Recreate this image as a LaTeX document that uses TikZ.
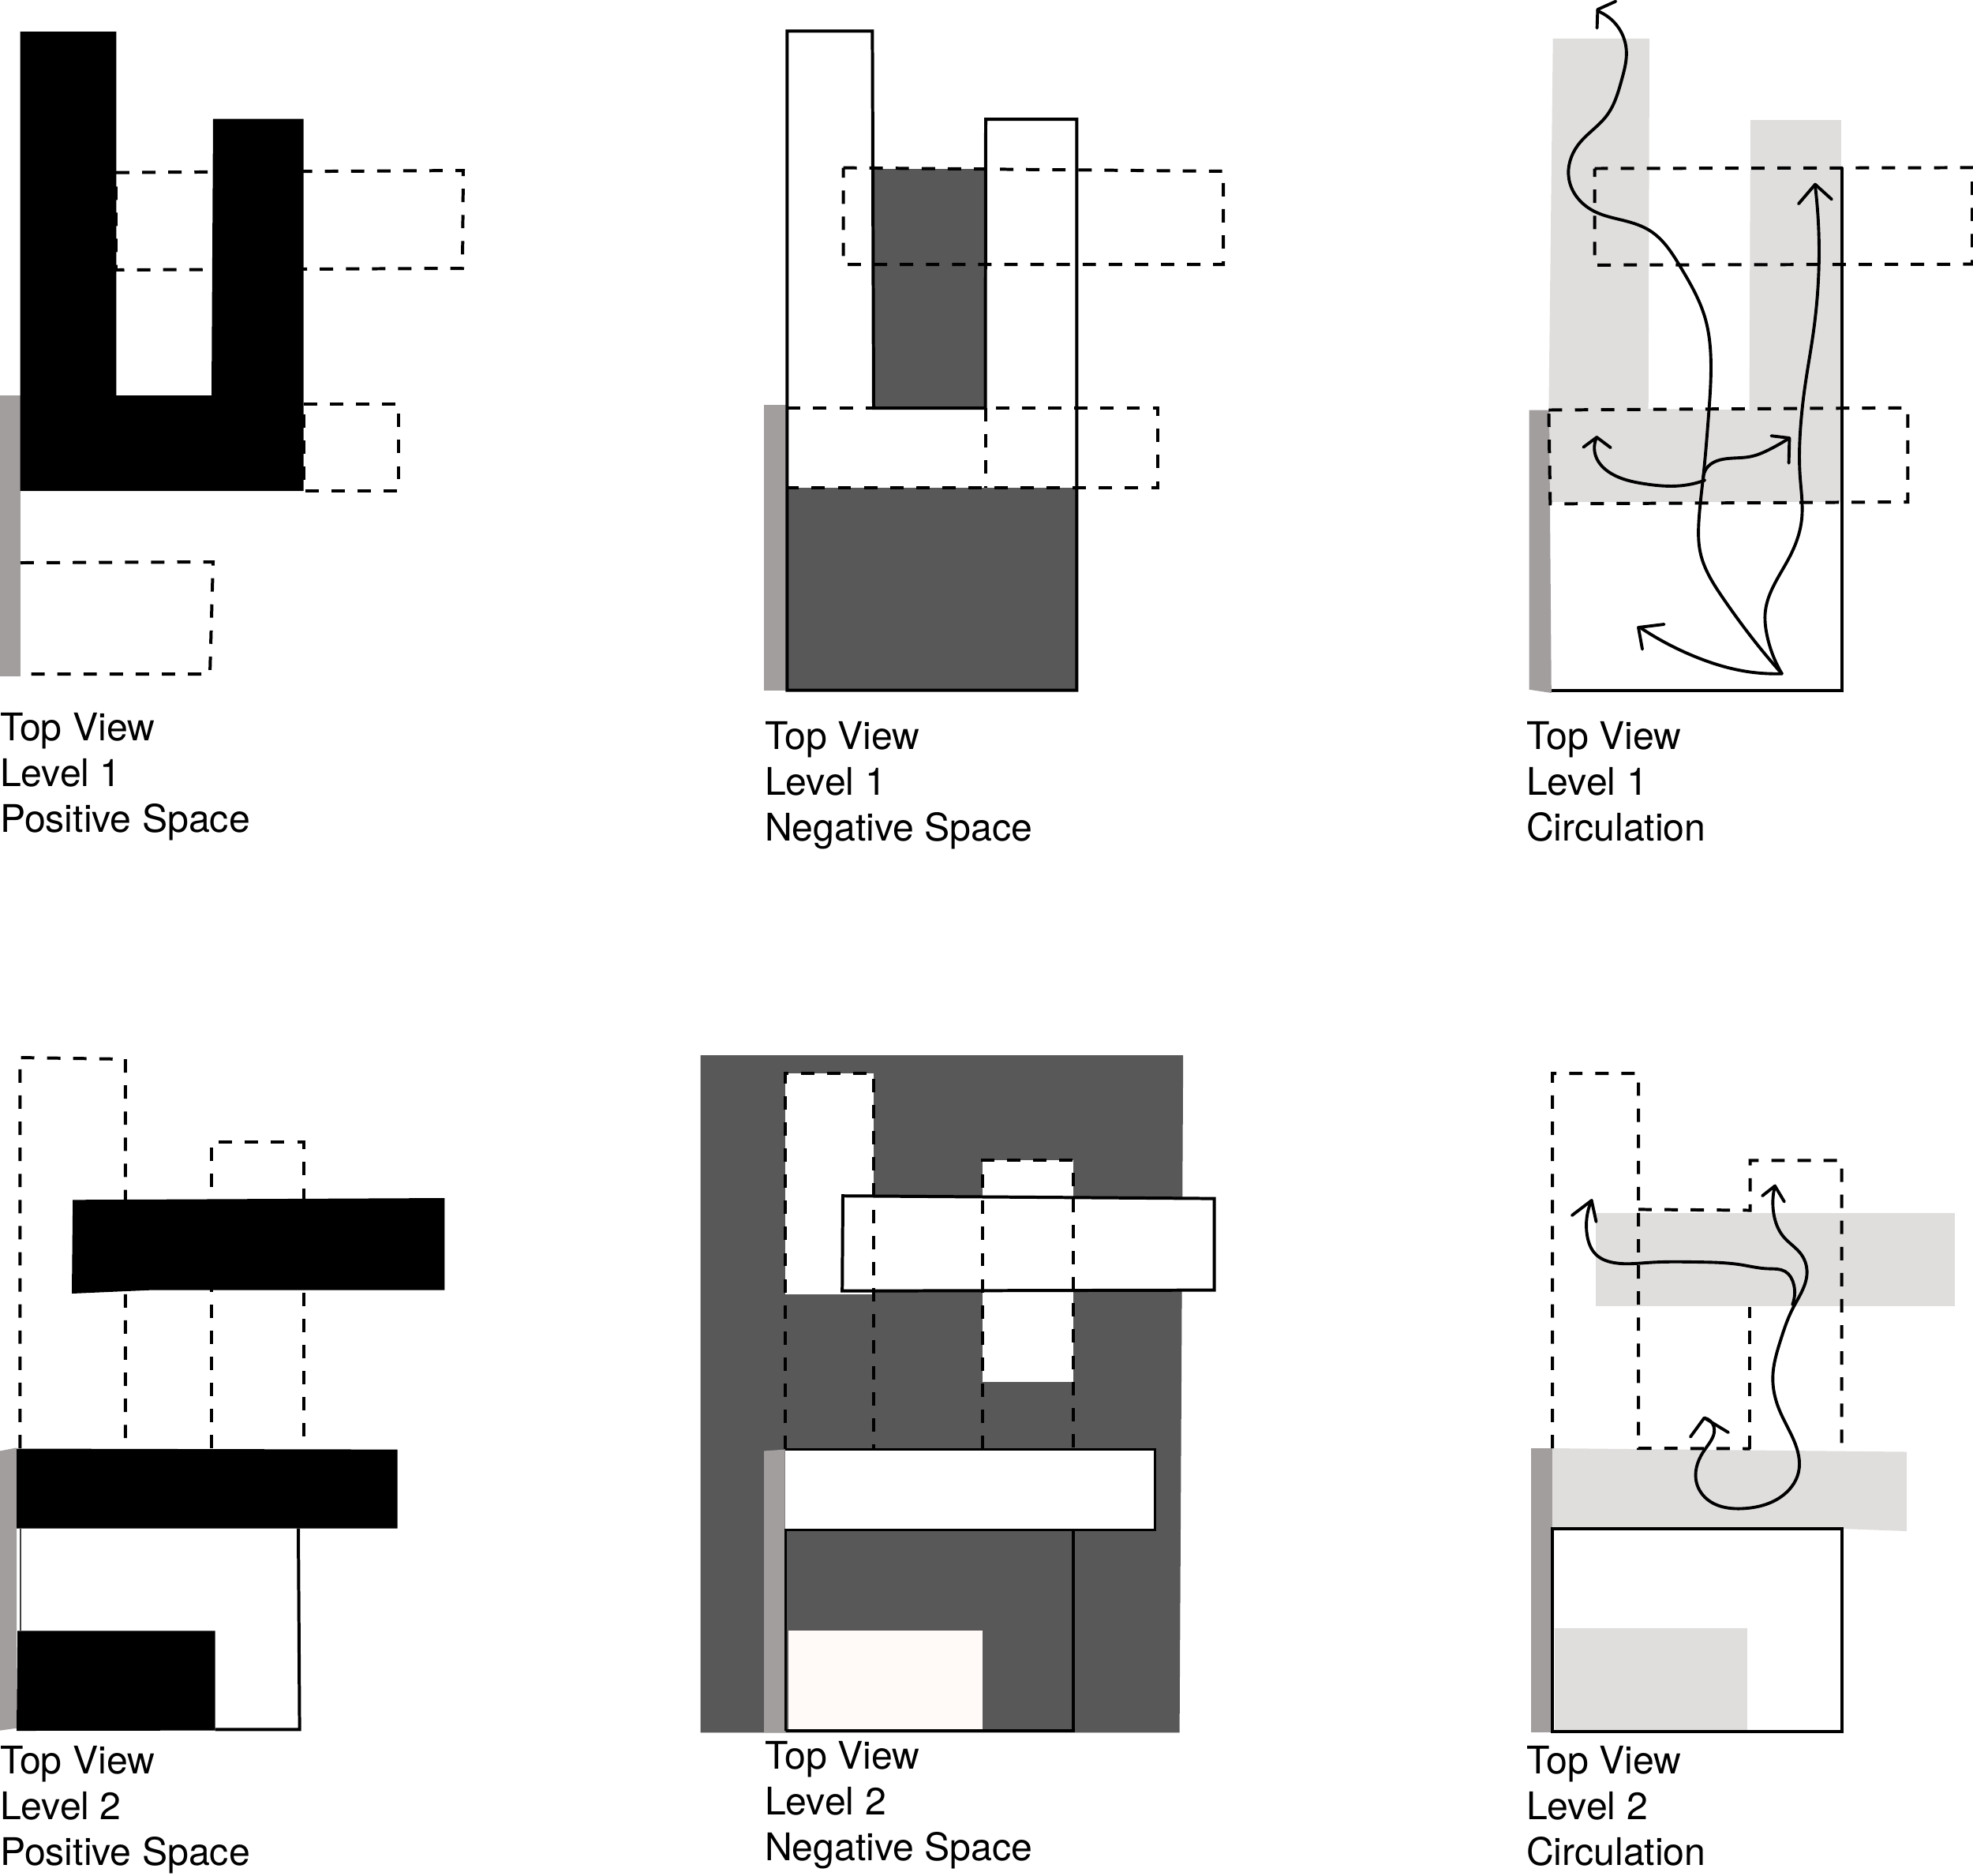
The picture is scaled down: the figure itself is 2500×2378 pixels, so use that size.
\documentclass[tikz,border=0pt]{standalone}
\usepackage{fontspec}
\usetikzlibrary{hobby}
\setmainfont{TeX Gyre Heros}
\definecolor{wallc}{HTML}{A39E9E}
\definecolor{darkc}{HTML}{585858}
\definecolor{palec}{HTML}{E0DEDD}
\definecolor{offw}{HTML}{FFFAF8}
\tikzset{
  dashln/.style={draw=black,line width=2pt,dash pattern=on 8.5pt off 8.1pt},
  solidln/.style={draw=black,line width=2pt,line join=miter},
  thinln/.style={draw=wallc!40!black,line width=0.9pt},
  wallfill/.style={fill=wallc},
  darkfill/.style={fill=darkc},
  palefill/.style={fill=palec},
  blackfill/.style={fill=black},
  route/.style={draw=black,line width=1.95pt,line cap=round,line join=round},
  curveln/.style={route,use Hobby shortcut},
  caption/.style={anchor=base west,inner sep=0pt,outer sep=0pt,font=\fontsize{24.2}{28}\selectfont,text=black}
}
\newcommand{\lbl}[5]{%
  \node[caption] (#1a) at (#2,#3) {Top View};
  \node[caption] (#1b) at (#2,#3+58) {#4};
  \node[caption] (#1c) at (#2,#3+116) {#5};
}
\begin{document}
\begin{tikzpicture}[x=0.4999bp,y=-0.4999bp]
\useasboundingbox (0,0) rectangle (2500,2376);
\clip (0,0) rectangle (2500,2376);

% ---------- Panel 1: level 1 positive
\fill[wallfill] (0,501) rectangle (26,856.5);
\draw[dashln] (147,218.6) -- (587,216) -- (586,340) -- (147,342) -- cycle;
\draw[dashln] (385,512) -- (505,512) -- (505,622) -- (385,622) -- cycle;
\draw[dashln] (26,713) -- (270,712) -- (266,854) -- (26,854);
\fill[blackfill] (25.6,40) -- (147.3,40) -- (147.3,501) -- (268,501) -- (270,150.5) -- (384.6,150.5) -- (384.6,622) -- (25.6,622) -- cycle;

% ---------- Panel 2: level 1 negative
\fill[wallfill] (967.8,513) rectangle (997.4,874.6);
\fill[darkfill] (1107,214) rectangle (1248.5,517);
\fill[darkfill] (997.4,618) rectangle (1364.4,874.6);
\draw[dashln] (1068.6,212.6) -- (1550,217) -- (1550,335.2) -- (1068.6,335.2) -- cycle;
\draw[dashln] (997.4,516.7) -- (1467,516.7) -- (1467,618) -- (997.4,618);
\draw[dashln] (1248.5,517) -- (1248.5,618);
\draw[solidln] (997.4,39.4) -- (1105.4,39.4) -- (1107,517) -- (1248.5,517) -- (1249,151) -- (1364.4,151) -- (1364.4,874.6) -- (997.4,874.6) -- cycle;

% ---------- Panel 3: level 1 circulation
\fill[palefill] (1967.7,48.8) -- (2090,48.8) -- (2088.7,518) -- (2216.5,519.5) -- (2218,152) -- (2332.8,152) -- (2332.8,636) -- (1963,636) -- (1962.4,518) -- cycle;
\fill[wallfill] (1937.5,519.5) -- (1963,519.5) -- (1965.8,878) -- (1937.5,873.7) -- cycle;
\draw[solidln] (2333.6,212) -- (2333.6,875.4) -- (1965.8,875.4);
\draw[dashln] (2020.5,213.5) -- (2499,212.4) -- (2499,334.7) -- (2020.5,335.8) -- cycle;
\draw[dashln] (1962.4,519.5) -- (2417.4,516.7) -- (2417.4,636) -- (1964.3,638.4) -- cycle;

\draw[curveln] (2257.8,853.6) .. (2225.3,815) .. (2183.2,757.8) .. (2154.5,700.3) .. (2152.6,660) .. (2158.3,602.8) .. (2164.8,528) .. (2167.9,459) .. (2160.2,401.8) .. (2129.6,338.7) .. (2091.4,292.8) .. (2064.6,281.3) .. (2018.6,267) .. (1988,226.8) .. (1999.5,183.7) .. (2035.9,146.4) .. (2055,100.5) .. (2060.7,63) .. (2024.4,14);
\draw[route] (2047.3,1.7) -- (2024.4,12) -- (2023.6,35.6);
\draw[curveln] (2257.8,853.6) .. (2238.7,803.7) .. (2236.8,775) .. (2267.4,706) .. (2282.7,660) .. (2280.8,602.8) .. (2281.6,539.6) .. (2286.5,493.7) .. (2298,419) .. (2304.9,310) .. (2300,235.4);
\draw[route] (2278.9,258.3) -- (2300,233.6) -- (2321,252.6);
\draw[curveln] (2257.8,853.6) .. (2206,849.6) .. (2148.8,832.4) .. (2078,795);
\draw[route] (2108.6,791) -- (2076,795) -- (2081,822.6);
\draw[curveln] (2160.2,608.5) .. (2129.6,615.4) .. (2083.7,613) .. (2041.6,600) .. (2022,578) .. (2023.2,554);
\draw[route] (2006.4,566.6) -- (2023.2,554) -- (2040.8,567.2);
\draw[curveln] (2158.3,608) .. (2164,591.3) .. (2179.4,582.7) .. (2217.6,578.6) .. (2244.4,568.3) .. (2267.4,555);
\draw[route] (2244.4,552.2) -- (2267.4,555) -- (2266.6,586.7);

% ---------- Panel 4: level 2 positive
\fill[wallfill] (0,1838.4) -- (21,1834.4) -- (21,2189.7) -- (0,2192.6) -- cycle;
\draw[dashln] (25.3,1835) -- (25.3,1340) -- (158.8,1342) -- (158.8,1835);
\draw[dashln] (267.9,1835) -- (267.9,1447.4) -- (384.6,1447.4) -- (384.6,1835);
\draw[thinln] (26,1936.5) -- (26,2066);
\draw[solidln] (378,1936.5) -- (379.6,2191.4) -- (272.5,2191.4);
\fill[blackfill] (92.2,1520.3) -- (563.3,1518) -- (563.3,1634.6) -- (191.4,1634.6) -- (91,1639) -- cycle;
\fill[blackfill] (21,1835.5) -- (503.6,1836.6) -- (503.6,1936.5) -- (21,1936.5) -- cycle;
\fill[blackfill] (22.2,2066.3) -- (272.5,2066.3) -- (272.5,2192.6) -- (21,2193) -- cycle;

% ---------- Panel 5: level 2 negative
\fill[darkfill] (887.6,1337) -- (1499.2,1337) -- (1494.6,2195.4) -- (887.6,2195.4) -- cycle;
\fill[white] (994.6,1360) rectangle (1107,1640);
\fill[white] (1244.9,1470.4) rectangle (1360,1750.5);
\fill[white,draw=black,line width=2pt] (1068,1515.2) -- (1538.7,1518.6) -- (1538.7,1634.6) -- (1067.2,1635.7) -- cycle;
\draw[dashln] (994.6,1836) -- (994.6,1360) -- (1107,1360) -- (1107,1836);
\draw[dashln] (1244.9,1836) -- (1244.9,1470.4) -- (1360,1470.4) -- (1360,1836);
\fill[white] (994.6,1836) rectangle (1463,1938);
\fill[wallfill] (968,1838.4) -- (994.6,1836.6) -- (994.6,2195.4) -- (968,2195.4) -- cycle;
\draw[draw=black,line width=1.5pt] (994.6,1836) -- (1463,1836) -- (1463,1938) -- (995.5,1938) -- (995.5,2192.6);
\draw[solidln] (1360,1938) -- (1360,2192.6) -- (995.5,2192.6);
\fill[offw] (998.8,2066.3) rectangle (1244.9,2190.8);

% ---------- Panel 6: level 2 circulation
\fill[palefill] (2021.7,1537) rectangle (2476.7,1654.7);
\fill[palefill] (1967,1835) -- (2416,1839.5) -- (2416,1940) -- (2334.4,1937) -- (1967,1937) -- cycle;
\fill[wallfill] (1940,1835) rectangle (1967,2195);
\fill[palefill] (1970,2063.4) rectangle (2213.8,2192.6);
\draw[solidln] (1967,1937) rectangle (2333.6,2194.3);
\draw[dashln] (1967,1835) -- (1967,1360) -- (2076,1360) -- (2076,1835) -- (2217.6,1835.5);
\draw[dashln] (2076,1532.4) -- (2217.6,1533.5) -- (2217.6,1470.4) -- (2333.6,1470.4) -- (2333.6,1838.4);
\draw[dashln] (2217,1835.5) -- (2217,1655.8);

\draw[curveln] (2271.2,1653) .. (2273,1628) .. (2262,1611) .. (2240,1607.5) .. (2206,1602.5) .. (2148.8,1599) .. (2091.4,1599.6) .. (2045.4,1600) .. (2022.5,1589.8) .. (2011,1565) .. (2016.7,1521);
\draw[route] (1991.8,1540) -- (2016.7,1521) -- (2022.5,1548);
\draw[curveln] (2159.5,1796.5) .. (2171.7,1808) .. (2160.2,1836.6) .. (2148.8,1874) .. (2160.2,1897) .. (2210,1911.3) .. (2256,1897) .. (2278.9,1865.3) .. (2273,1825) .. (2254,1785) .. (2246.3,1744.8) .. (2255.9,1698.9) .. (2271.2,1658.7) .. (2289.6,1610) .. (2282.7,1589.8) .. (2259.7,1566.8) .. (2247.5,1538) .. (2249,1502.6);
\draw[route] (2141.9,1820.6) -- (2159.5,1796.5) -- (2190,1815);
\draw[route] (2233,1515.2) -- (2249,1502.6) -- (2260.9,1522.6);

% ---------- Captions
\lbl{pa}{0}{938}{Level 1}{Positive Space}
\lbl{pb}{969}{949}{Level 1}{Negative Space}
\lbl{pc}{1934}{949}{Level 1}{Circulation}
\lbl{pd}{0}{2247}{Level 2}{Positive Space}
\lbl{pe}{969}{2241}{Level 2}{Negative Space}
\lbl{pf}{1934}{2247}{Level 2}{Circulation}
\end{tikzpicture}
\end{document}
